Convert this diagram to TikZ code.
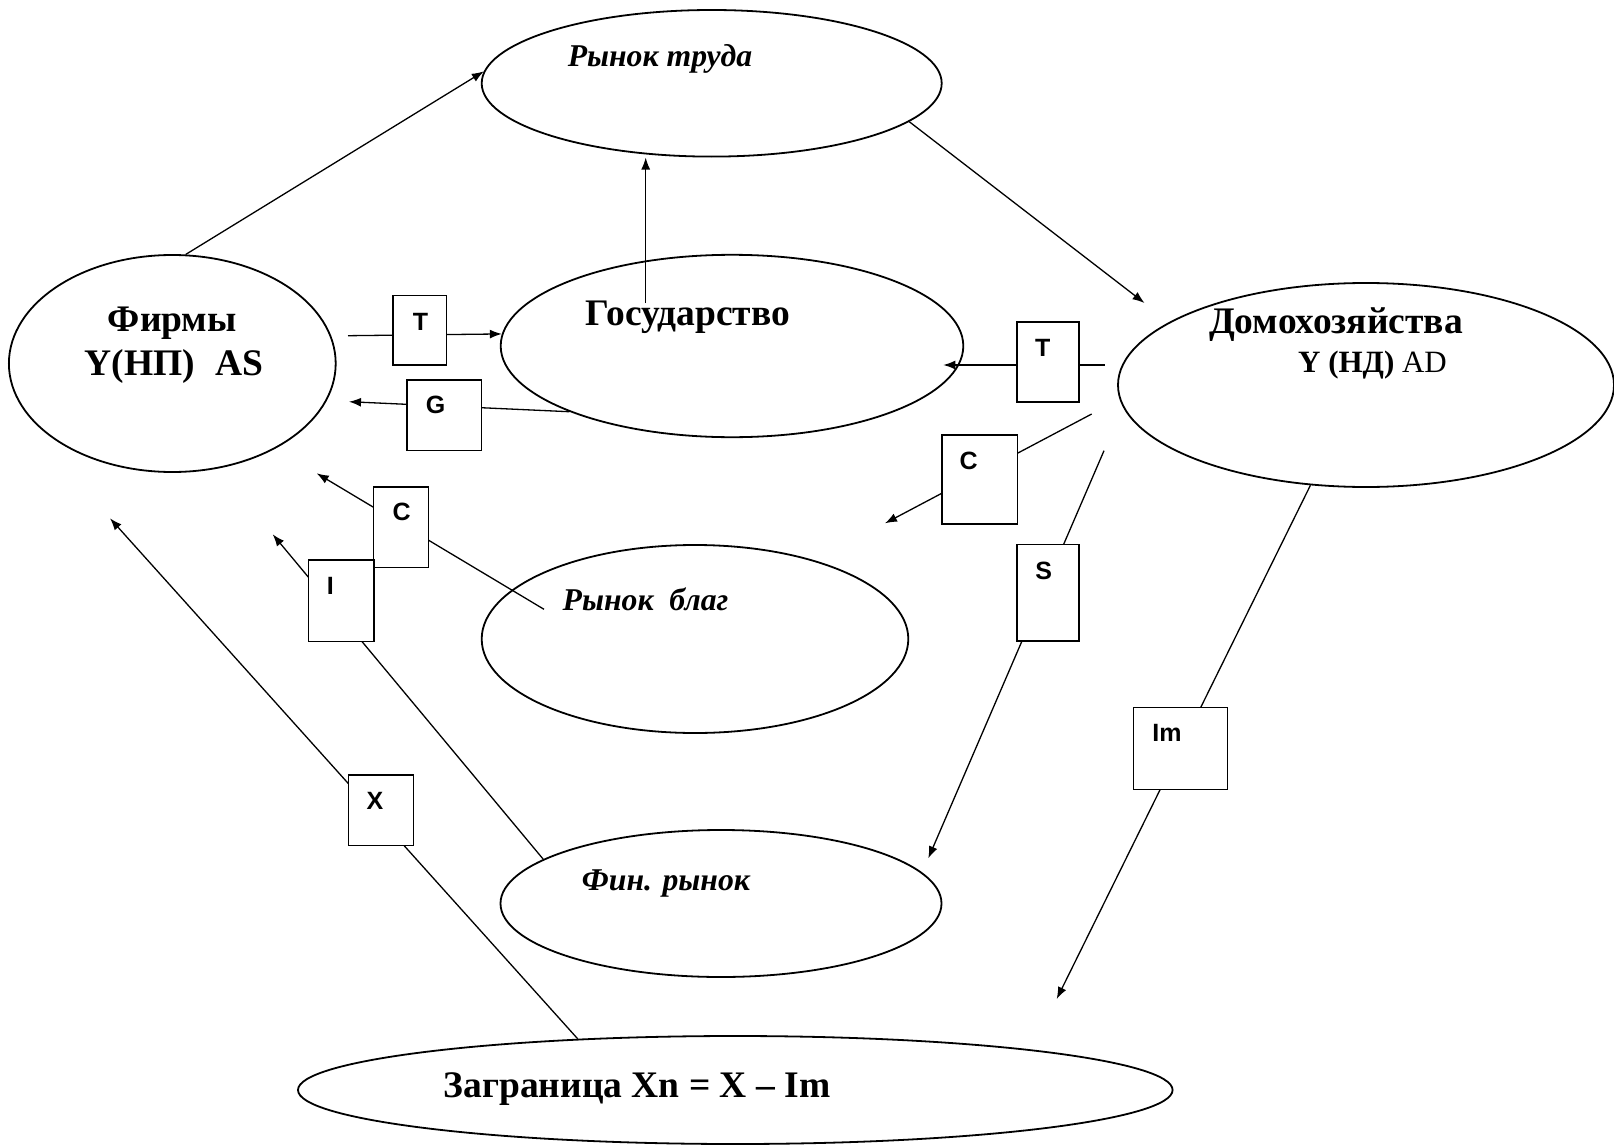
\documentclass[tikz,border=0pt]{standalone}
\usepackage{fontspec}
\setmainfont{Liberation Serif}
\newfontfamily\arialfont{Liberation Sans}
\usetikzlibrary{arrows.meta,shapes.geometric}

\begin{document}
\begin{tikzpicture}[
		x=1pt, y=-1pt,
		arrow/.style={-{Latex[length=12pt, width=9pt]}, line width=1.3pt},
		market/.style={draw, ellipse, line width=1.8pt, inner sep=0pt},
		tagbox/.style={draw, fill=white, line width=1.6pt, inner sep=0pt},
		bigtext/.style={anchor=base, font=\fontsize{37.5}{45}\selectfont\bfseries},
		marktext/.style={anchor=base, font=\fontsize{31.7}{38}\selectfont\bfseries\itshape},
		boxtag/.style={anchor=base, font=\arialfont\fontsize{25}{30}\selectfont\bfseries},
	]
	\useasboundingbox (0,0) rectangle (1614,1145);

	\node (labor) at (711.7,83.3) [market, minimum width=460pt, minimum height=146.6pt] {};
	\node (firms) at (172.3,363.5) [market, minimum width=326.8pt, minimum height=217pt] {};
	\node (gov) at (732,346) [market, minimum width=462.6pt, minimum height=182.4pt] {};
	\node (house) at (1366,385) [market, minimum width=496pt, minimum height=204pt] {};
	\node (goods) at (695,639) [market, minimum width=426.6pt, minimum height=188pt] {};
	\node (fin) at (721,903.5) [market, minimum width=441pt, minimum height=147pt] {};
	\node (abroad) at (735.3,1090) [market, minimum width=874.6pt, minimum height=108pt] {};

	\node (laborl) at (660,66.7) [marktext] {Рынок труда};
	\node (firmsl) at (172.3,331.7) [bigtext] {Фирмы};
	\node (firmsl2) at (174,375) [bigtext] {Y(НП)\hspace{0.55em}AS};
	\node (govl) at (688,325) [bigtext] {Государство};
	\node (housel) at (1336,333) [bigtext] {Домохозяйства};
	\node (housel2) at (1372.5,372.7) [bigtext, font=\fontsize{31}{37}\selectfont] {{\bfseries Y (НД)} AD};
	\node (goodsl) at (645.5,610.7) [marktext] {Рынок~~благ};
	\node (finl) at (666,890.7) [marktext] {Фин. рынок};
	\node (abroadl) at (637,1097.3) [bigtext] {Заграница Xn = X – Im};

	\coordinate (govup) at (645.7,303);
	\coordinate (houseIn) at (1144.5,303);
	\coordinate (firmsT) at (348,335.7);
	\coordinate (houseT) at (1104.5,365);
	\coordinate (govT) at (943.3,365);
	\coordinate (firmsG) at (349,401.7);
	\coordinate (houseC) at (1091.7,414);
	\coordinate (goodsC) at (885,523.3);
	\coordinate (houseS) at (1104,450.7);
	\coordinate (finS) at (928.3,858.3);
	\coordinate (abroadIm) at (1056.7,999);
	\coordinate (goodsOut) at (544,609.3);
	\coordinate (firmsC) at (316.7,473.3);
	\coordinate (firmsI) at (272.7,534.3);
	\coordinate (firmsX) at (110,518.3);

	\draw[arrow] (firms.83) -- (labor.177.5);
	\draw[arrow] (govup) -- (govup |- labor.south);
	\draw[arrow] (labor.-11) -- (houseIn);
	\draw[arrow] (firmsT) -- (gov.177);
	\draw[arrow] (houseT) -- (govT);
	\draw[arrow] (gov.202) -- (firmsG);
	\draw[arrow] (houseC) -- (goodsC);
	\draw[arrow] (houseS) -- (finS);
	\draw[arrow] (house.241) -- (abroadIm);
	\draw[arrow] (goodsOut) -- (firmsC);
	\draw[arrow] (fin.166) -- (firmsI);
	\draw[arrow] (abroad.162.5) -- (firmsX);

	\node (tF) at (419.6,330.3) [tagbox, minimum width=53.5pt, minimum height=69.3pt] {};
	\node (gF) at (444.3,415.3) [tagbox, minimum width=74.3pt, minimum height=70.7pt] {};
	\node (tH) at (1047.9,361.7) [tagbox, minimum width=62.3pt, minimum height=80pt] {};
	\node (cH) at (979.5,479.5) [tagbox, minimum width=75.6pt, minimum height=89pt] {};
	\node (sH) at (1047.9,592.7) [tagbox, minimum width=62.3pt, minimum height=96.7pt] {};
	\node (cG) at (400.8,527) [tagbox, minimum width=55pt, minimum height=80.6pt] {};
	\node (iF) at (341.2,600.8) [tagbox, minimum width=65.7pt, minimum height=81.7pt] {};
	\node (xA) at (380.8,810.3) [tagbox, minimum width=65pt, minimum height=70.7pt] {};
	\node (imH) at (1180.3,748.3) [tagbox, minimum width=94pt, minimum height=82pt] {};

	\node (tFl) at (420.5,330) [boxtag] {T};
	\node (gFl) at (435.7,413) [boxtag] {G};
	\node (tHl) at (1042.8,356) [boxtag] {T};
	\node (cHl) at (968.7,469) [boxtag] {C};
	\node (sHl) at (1043.7,579) [boxtag] {S};
	\node (cGl) at (401.7,520.7) [boxtag] {C};
	\node (iFl) at (330.3,594) [boxtag] {I};
	\node (xAl) at (375,809) [boxtag] {X};
	\node (imHl) at (1167,741.7) [boxtag] {Im};
\end{tikzpicture}
\end{document}
